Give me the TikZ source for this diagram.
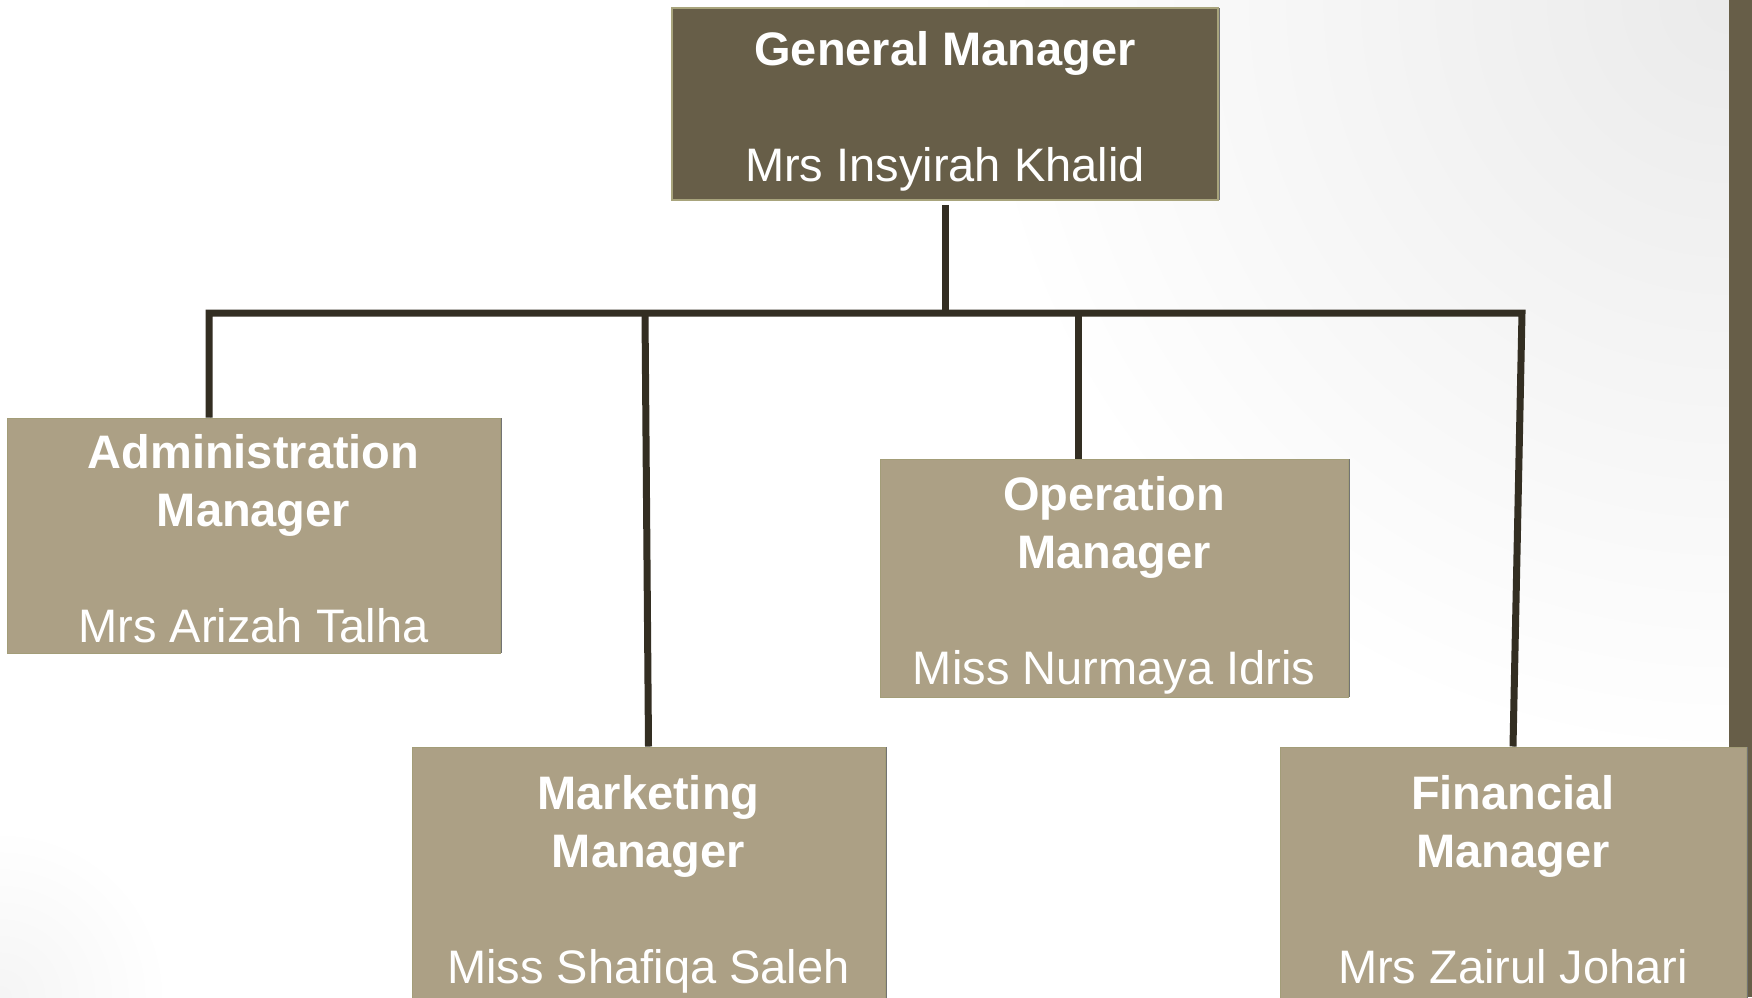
\documentclass[tikz,border=0pt]{standalone}
\usepackage{fontspec}
\setmainfont{Liberation Sans}
\usetikzlibrary{positioning}

\definecolor{gmfill}{HTML}{675E48}
\definecolor{gmedge}{HTML}{A8A47C}
\definecolor{mgrfill}{HTML}{ACA085}
\definecolor{mgredge}{HTML}{A39D78}
\definecolor{linkdark}{HTML}{332E22}

% first and last line struts, so every box sets its text alike
\newcommand{\toprow}{\rule{0pt}{24.75pt}}
\newcommand{\lastrow}{\rule[-5.25pt]{0pt}{5.25pt}}

\tikzset{
  chartbox/.style={align=center, text=white, inner sep=0pt,
    font=\fontsize{23.5}{29}\selectfont,
    preaction={fill=black!55, transform canvas={xshift=1.1pt}}},
  topbox/.style={chartbox, fill=gmfill, draw=gmedge, line width=0.8pt},
  mgrbox/.style={chartbox, fill=mgrfill, draw=mgredge, line width=0.5pt},
  link/.style={draw=linkdark, line width=3.5pt,
    preaction={draw=black!50, transform canvas={xshift=0.9pt}}},
}

\begin{document}
\begin{tikzpicture}[x=0.5pt, y=-0.5pt]

% Slide background
\useasboundingbox (0,0) rectangle (1752,997);
\clip (0,0) rectangle (1752,997);
\fill[white] (0,0) rectangle (1752,997);
\shade[inner color=black!8, outer color=white] (1729,0) circle (760);
\shade[inner color=black!4, outer color=white] (0,997) circle (170);
\fill[gmfill] (1729,0) rectangle (1752,997);

% Boxes
\node[topbox, minimum width=273pt, minimum height=96pt] (gm) at (945,104)
  {\toprow\textbf{General Manager}\\~\\Mrs Insyirah Khalid\lastrow};
\node[mgrbox, minimum width=246.5pt, minimum height=117.5pt] (adm) at (253.5,535.5)
  {\toprow\textbf{Administration}\\\textbf{Manager}\\~\\Mrs Arizah Talha\lastrow};
\node[mgrbox, minimum width=234pt, minimum height=119pt] (ops) at (1114,578)
  {\toprow\textbf{Operation}\\\textbf{Manager}\\~\\Miss Nurmaya Idris\lastrow};
\node[mgrbox, minimum width=236.5pt, minimum height=130pt] (mkt) at (648.5,877)
  {\toprow\textbf{Marketing}\\\textbf{Manager}\\~\\Miss Shafiqa Saleh\lastrow};
\node[mgrbox, minimum width=233pt, minimum height=130pt] (fin) at (1513,877)
  {\toprow\textbf{Financial}\\\textbf{Manager}\\~\\Mrs Zairul Johari\lastrow};

% Connectors
\coordinate (bar-l) at (209,313);
\coordinate (bar-m) at (645,313);
\coordinate (bar-o) at (1078,313);
\coordinate (bar-r) at (1522,313);

\draw[link] ([yshift=-2pt]gm.south) -- (gm.south |- bar-l);
\draw[link] (bar-l |- adm.north) -- (bar-l) -- (bar-r) -- (fin.north);
\draw[link] (bar-m) -- (mkt.north);
\draw[link] (bar-o) -- (bar-o |- ops.north);

\end{tikzpicture}
\end{document}
